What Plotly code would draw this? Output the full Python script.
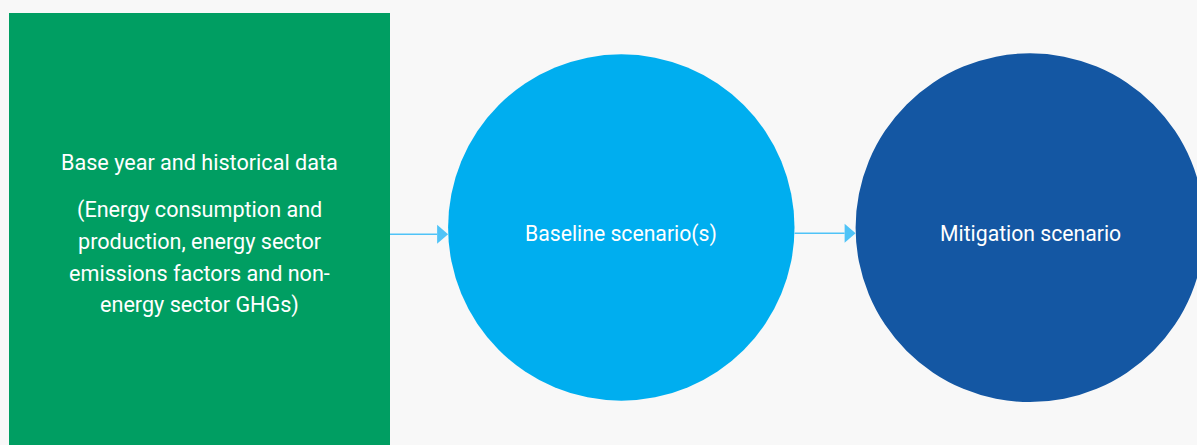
import plotly.graph_objects as go

# ---- content (text) ----
box_title = "Base year and historical data"
box_lines = [
    "(Energy consumption and",
    "production, energy sector",
    "emissions factors and non-",
    "energy sector GHGs)",
]
circle_labels = ["Baseline scenario(s)", "Mitigation scenario"]

# ---- styles ----
W, H = 1197, 445
BG = "#f8f8f8"
BOX_COLOR = "#009e62"
CIRCLE_COLORS = ["#00aeef", "#1457a3"]
ARROW_COLOR = "#4fc3f7"
BOX_FONT = dict(family="Roboto, Arial, sans-serif", size=21.6, color="white")
LABEL_FONT = dict(family="Roboto, Arial, sans-serif", size=21.2, color="white")

# ---- layout geometry (pixels) ----
box = dict(x0=9, x1=390, y0=13, y1=470)
circles = [dict(cx=621.3, cy=227.5, r=173.2), dict(cx=1030, cy=227.7, r=174.4)]
arrow_ys = [234.3, 233.3]
HEAD_LEN, HEAD_HALF = 11, 9.5
title_y = 162.8
line_y0, line_dy = 210.3, 31.4
label_y = 233.6

fig = go.Figure()
shapes = []
annotations = []

# green box
shapes.append(dict(type="rect", xref="x", yref="y", layer="below",
                   fillcolor=BOX_COLOR, line=dict(width=0), **box))
bx = (box["x0"] + box["x1"]) / 2
annotations.append(dict(x=bx, y=title_y, text=box_title, showarrow=False,
                        xanchor="center", yanchor="middle", font=BOX_FONT))
for i, t in enumerate(box_lines):
    annotations.append(dict(x=bx, y=line_y0 + i * line_dy, text=t, showarrow=False,
                            xanchor="center", yanchor="middle", font=BOX_FONT))

# circles
for c, col, lab in zip(circles, CIRCLE_COLORS, circle_labels):
    shapes.append(dict(type="circle", xref="x", yref="y", layer="below",
                       x0=c["cx"] - c["r"], x1=c["cx"] + c["r"],
                       y0=c["cy"] - c["r"], y1=c["cy"] + c["r"],
                       fillcolor=col, line=dict(width=0)))
    annotations.append(dict(x=c["cx"], y=label_y, text=lab, showarrow=False,
                            xanchor="center", yanchor="middle", font=LABEL_FONT))

# arrows (from the right edge of a node to the left edge of the next)
starts = [box["x1"], circles[0]["cx"] + circles[0]["r"]]
ends = [circles[0]["cx"] - circles[0]["r"], circles[1]["cx"] - circles[1]["r"]]
for xs, xe, ay in zip(starts, ends, arrow_ys):
    hb = xe - HEAD_LEN
    shapes.append(dict(type="line", xref="x", yref="y", x0=xs, x1=hb, y0=ay, y1=ay,
                       line=dict(color=ARROW_COLOR, width=1.5)))
    shapes.append(dict(type="path", xref="x", yref="y",
                       path=f"M {hb},{ay - HEAD_HALF} L {xe},{ay} L {hb},{ay + HEAD_HALF} Z",
                       fillcolor=ARROW_COLOR, line=dict(width=0)))

fig.update_layout(
    width=W, height=H, margin=dict(l=0, r=0, t=0, b=0),
    paper_bgcolor=BG, plot_bgcolor=BG,
    xaxis=dict(range=[0, W], visible=False, fixedrange=True),
    yaxis=dict(range=[H, 0], visible=False, fixedrange=True),
    shapes=shapes, annotations=annotations, showlegend=False,
)

fig.write_html("out.html", config=dict(displayModeBar=False, staticPlot=True),
               post_script="document.body.style.margin='0';document.body.style.overflow='hidden';")
